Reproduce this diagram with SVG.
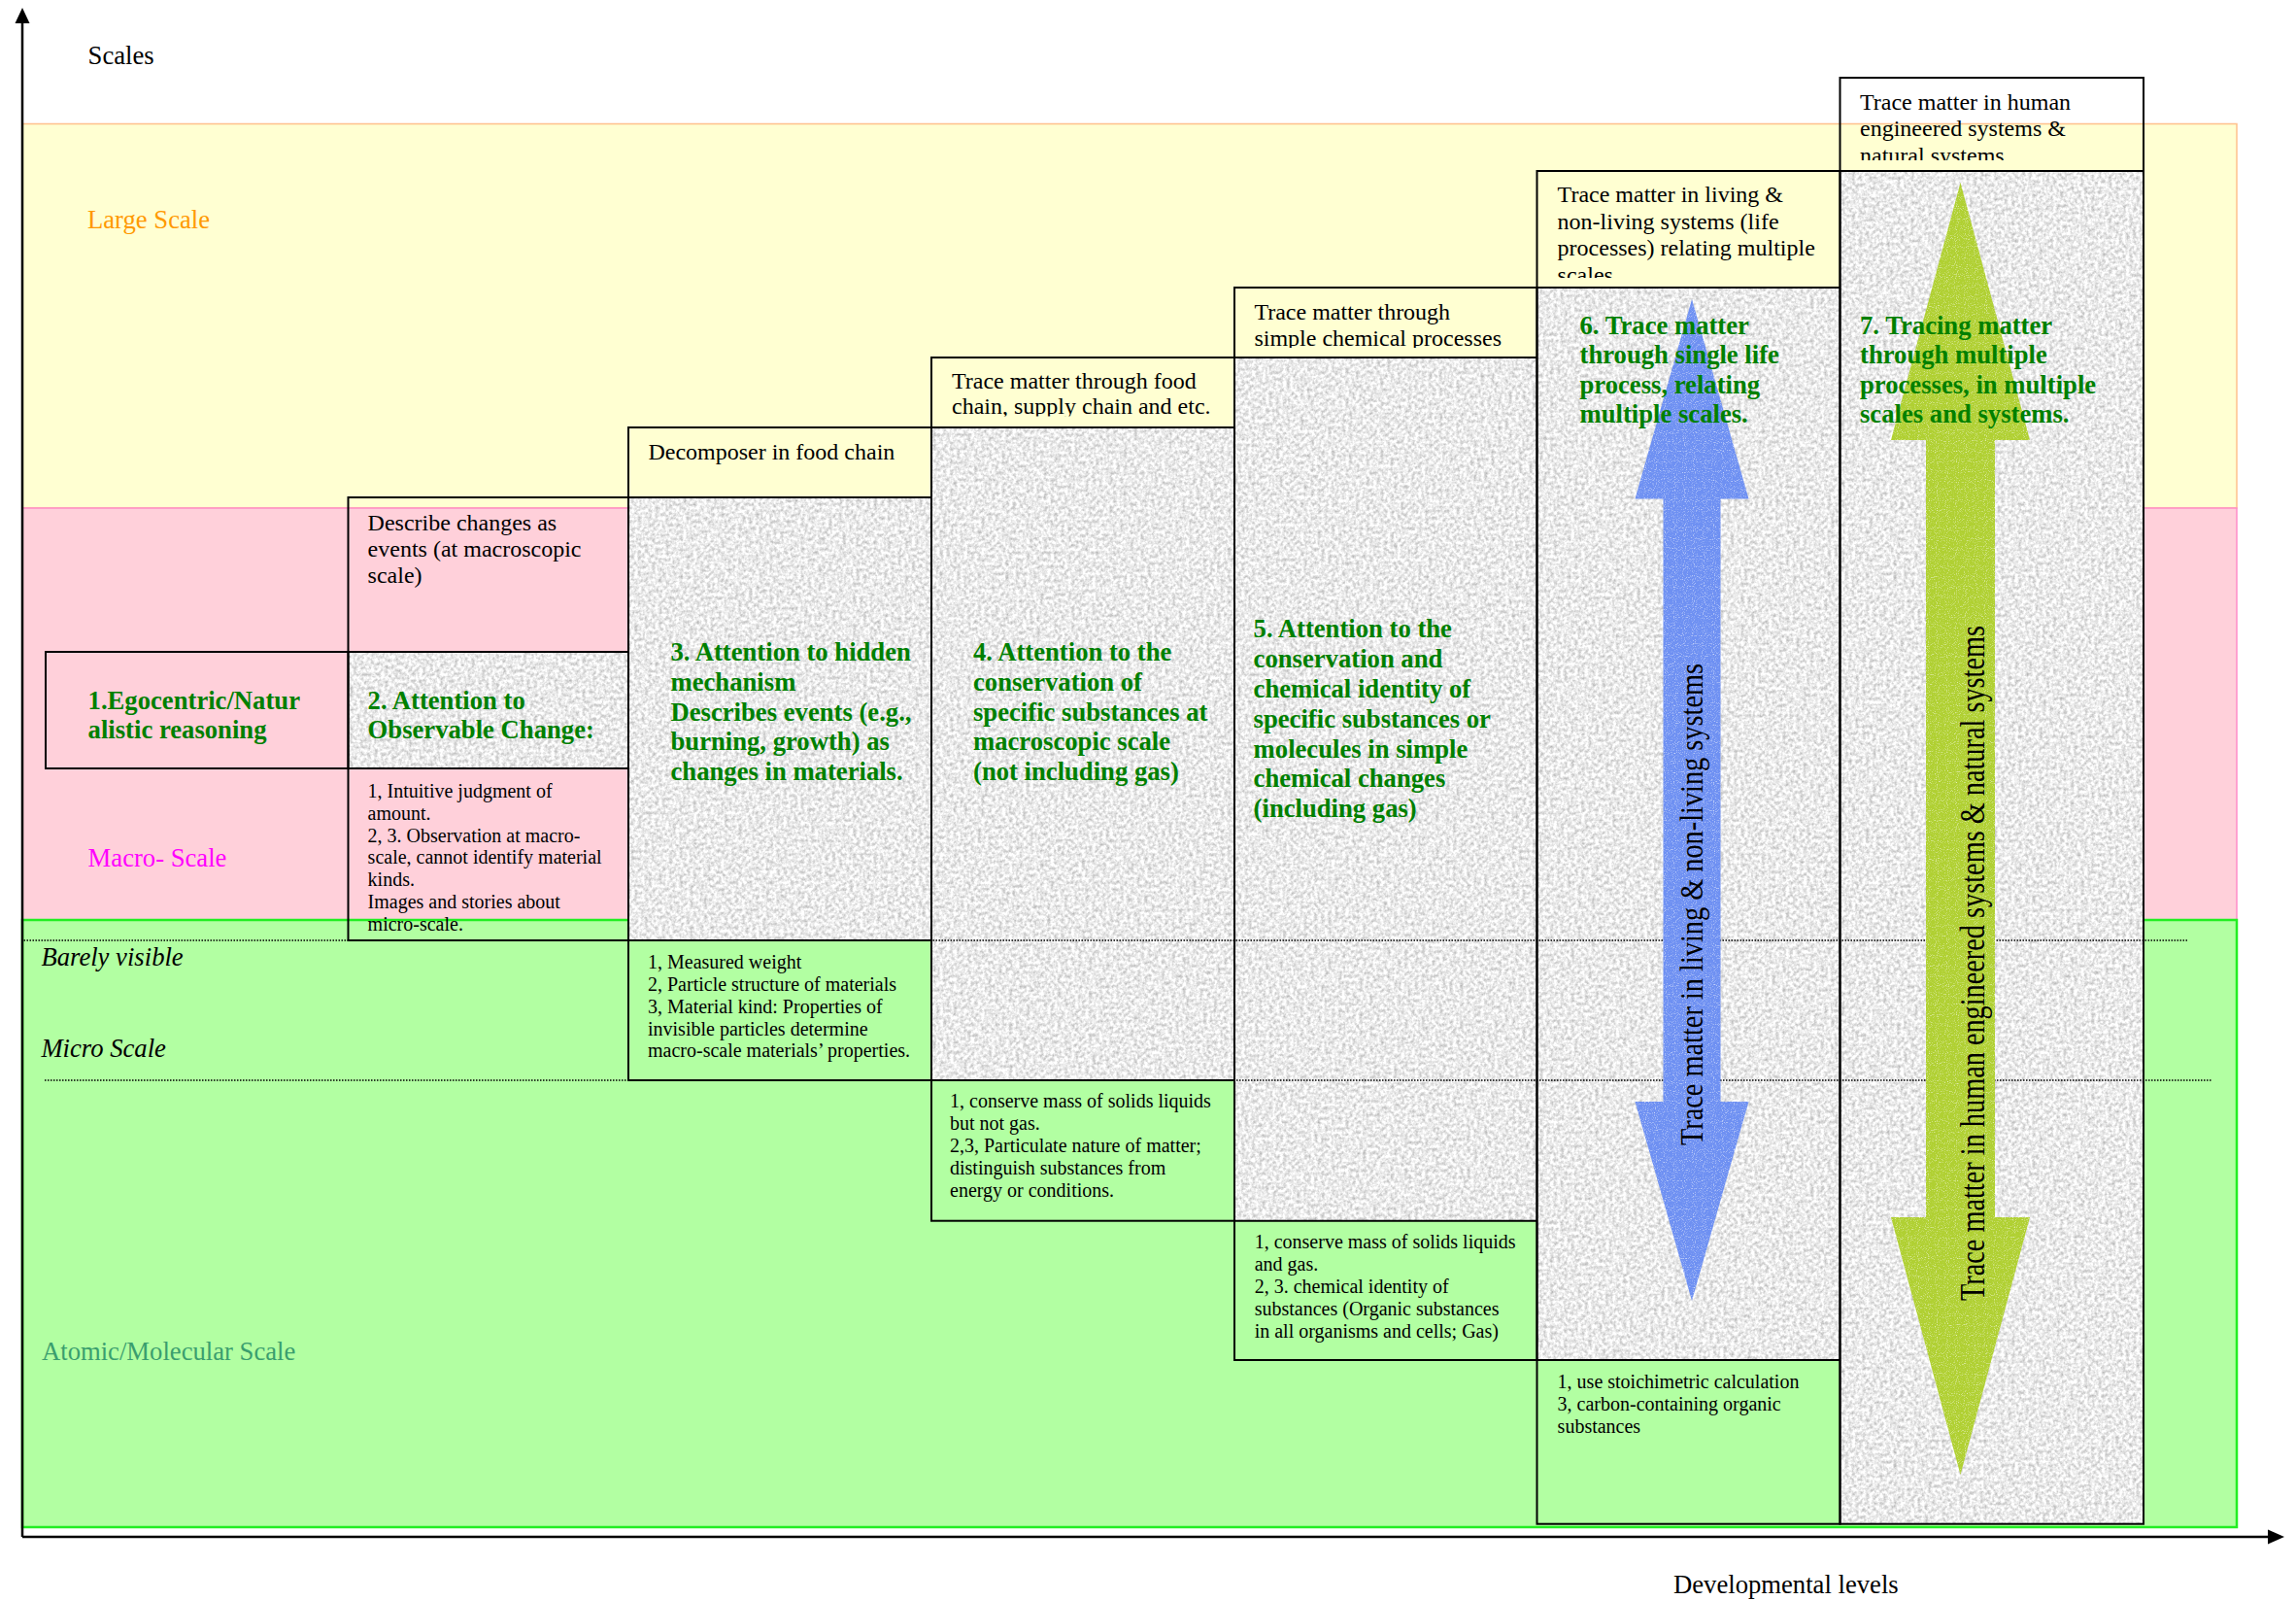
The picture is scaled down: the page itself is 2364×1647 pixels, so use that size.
<svg xmlns="http://www.w3.org/2000/svg" width="2364" height="1647" viewBox="0 0 2364 1647">
<style>
  .t{font-family:"Liberation Serif","Times New Roman",serif;fill:#000}
  .lbl{font-size:26.67px}
  .hd{font-size:24px}
  .lo{font-size:20px}
  .ttl{font-size:26.67px;font-weight:bold;fill:#008000}
  .it{font-style:italic}
  .box{fill:none;stroke:#000;stroke-width:2}
  .gray{fill:#ececec;filter:url(#granite)}
  .dot{stroke:#000;stroke-width:1.5;stroke-dasharray:1.5 1.5;fill:none}
  .axis{stroke:#000;stroke-width:2.5;fill:none}
</style>
<defs>
  <filter id="granite" x="0" y="0" width="1" height="1" color-interpolation-filters="sRGB">
    <feTurbulence type="fractalNoise" baseFrequency="0.28" numOctaves="3" seed="4" result="n"/>
    <feColorMatrix in="n" type="matrix" values="0.5 0 0 0 0.67  0.5 0 0 0 0.67  0.5 0 0 0 0.67  0 0 0 0 1" result="g"/>
    <feComposite in="g" in2="SourceGraphic" operator="in"/>
  </filter>
  <filter id="speck" x="0" y="0" width="1" height="1" color-interpolation-filters="sRGB">
    <feTurbulence type="fractalNoise" baseFrequency="0.9" numOctaves="1" seed="2" result="n"/>
    <feColorMatrix in="n" type="matrix" values="0 0 0 0 1  0 0 0 0 1  0 0 0 0 1  2.2 0 0 0 -1.15" result="w"/>
    <feComposite in="w" in2="SourceGraphic" operator="in" result="w2"/>
    <feMerge><feMergeNode in="SourceGraphic"/><feMergeNode in="w2"/></feMerge>
  </filter>
  <clipPath id="c4"><rect x="959" y="368" width="312" height="60.5"/></clipPath>
  <clipPath id="c5"><rect x="1271" y="296" width="312" height="62"/></clipPath>
  <clipPath id="c6"><rect x="1583" y="176" width="312" height="110"/></clipPath>
  <clipPath id="c7"><rect x="1895" y="80" width="312" height="85"/></clipPath>
</defs>

<!-- scale bands -->
<g id="bands">
  <rect x="23" y="127.5" width="2280" height="395.5" fill="#FFFFD2" stroke="#FFC08C" stroke-width="1.5"/>
  <rect x="23" y="523" width="2280" height="424" fill="#FFD0DA" stroke="#FF8CC8" stroke-width="1.5"/>
  <rect x="23" y="947" width="2280" height="625" fill="#B2FFA2" stroke="#22EE22" stroke-width="2.5"/>
</g>

<!-- gray textured areas -->
<g id="textures">
  <rect class="gray" x="358.5" y="671" width="288.5" height="120"/>
  <rect class="gray" x="647" y="512" width="312" height="456"/>
  <rect class="gray" x="959" y="440" width="312" height="672"/>
  <rect class="gray" x="1271" y="368" width="311.5" height="889"/>
  <rect class="gray" x="1582.5" y="296" width="312" height="1104"/>
  <rect class="gray" x="1894.5" y="176" width="312.5" height="1393"/>
</g>

<!-- dotted boundary lines -->
<g id="dotted">
  <line class="dot" x1="24.5" y1="968" x2="2252" y2="968"/>
  <line class="dot" x1="46" y1="1112" x2="2277" y2="1112"/>
</g>

<!-- axes -->
<g id="connectors">
  <line class="axis" x1="23" y1="1582" x2="23" y2="22"/>
  <polygon points="23,8 15.5,24 30.5,24" fill="#000"/>
  <line class="axis" x1="23" y1="1582" x2="2338" y2="1582"/>
  <polygon points="2352,1582 2335,1574.5 2335,1589.5" fill="#000"/>
</g>

<!-- node outlines -->
<g id="node1"><rect class="box" x="47" y="671" width="311.5" height="120"/>
  <text class="t ttl"><tspan x="90.6" y="729.6">1.Egocentric/Natur</tspan><tspan x="90.6" y="760.3">alistic reasoning</tspan></text>
</g>
<g id="node2">
  <rect class="box" x="358.5" y="512" width="288.5" height="456"/>
  <line class="box" x1="358.5" y1="671" x2="647" y2="671"/>
  <line class="box" x1="358.5" y1="791" x2="647" y2="791"/>
  <text class="t hd"><tspan x="378.6" y="546">Describe changes as</tspan><tspan x="378.6" y="573">events (at macroscopic</tspan><tspan x="378.6" y="600">scale)</tspan></text>
  <text class="t ttl"><tspan x="378.6" y="729.6">2. Attention to</tspan><tspan x="378.6" y="760.3">Observable Change:</tspan></text>
  <text class="t lo"><tspan x="378.6" y="820.7">1, Intuitive judgment of</tspan><tspan x="378.6" y="843.6">amount.</tspan><tspan x="378.6" y="866.5">2, 3. Observation at macro-</tspan><tspan x="378.6" y="889.4">scale, cannot identify material</tspan><tspan x="378.6" y="912.3">kinds.</tspan><tspan x="378.6" y="935.2">Images and stories about</tspan><tspan x="378.6" y="958.1">micro-scale.</tspan></text>
</g>
<g id="node3">
  <rect class="box" x="647" y="440" width="312" height="672"/>
  <line class="box" x1="647" y1="512" x2="959" y2="512"/>
  <line class="box" x1="647" y1="968" x2="959" y2="968"/>
  <text class="t hd" x="667.4" y="472.7">Decomposer in food chain</text>
  <text class="t ttl"><tspan x="690.5" y="680">3. Attention to hidden</tspan><tspan x="690.5" y="710.8">mechanism</tspan><tspan x="690.5" y="741.6">Describes events (e.g.,</tspan><tspan x="690.5" y="772.4">burning, growth) as</tspan><tspan x="690.5" y="803.2">changes in materials.</tspan></text>
  <text class="t lo"><tspan x="667" y="996.8">1, Measured weight</tspan><tspan x="667" y="1019.7">2, Particle structure of materials</tspan><tspan x="667" y="1042.6">3, Material kind: Properties of</tspan><tspan x="667" y="1065.5">invisible particles determine</tspan><tspan x="667" y="1088.4">macro-scale materials’ properties.</tspan></text>
</g>
<g id="node4">
  <rect class="box" x="959" y="368" width="312" height="888.7"/>
  <line class="box" x1="959" y1="440" x2="1271" y2="440"/>
  <line class="box" x1="959" y1="1112" x2="1271" y2="1112"/>
  <text class="t hd" clip-path="url(#c4)"><tspan x="980" y="400">Trace matter through food</tspan><tspan x="980" y="426">chain, supply chain and etc.</tspan></text>
  <text class="t ttl"><tspan x="1002" y="680">4. Attention to the</tspan><tspan x="1002" y="710.8">conservation of</tspan><tspan x="1002" y="741.6">specific substances at</tspan><tspan x="1002" y="772.4">macroscopic scale</tspan><tspan x="1002" y="803.2">(not including gas)</tspan></text>
  <text class="t lo"><tspan x="978" y="1140">1, conserve mass of solids liquids</tspan><tspan x="978" y="1162.9">but not gas.</tspan><tspan x="978" y="1185.8">2,3, Particulate nature of matter;</tspan><tspan x="978" y="1208.7">distinguish substances from</tspan><tspan x="978" y="1231.6">energy or conditions.</tspan></text>
</g>
<g id="node5">
  <rect class="box" x="1271" y="296" width="311.5" height="1104"/>
  <line class="box" x1="1271" y1="368" x2="1582.5" y2="368"/>
  <line class="box" x1="1271" y1="1256.7" x2="1582.5" y2="1256.7"/>
  <text class="t hd" clip-path="url(#c5)"><tspan x="1291.4" y="329">Trace matter through</tspan><tspan x="1291.4" y="355.5">simple chemical processes</tspan></text>
  <text class="t ttl"><tspan x="1290.6" y="656.3">5. Attention to the</tspan><tspan x="1290.6" y="687.1">conservation and</tspan><tspan x="1290.6" y="717.9">chemical identity of</tspan><tspan x="1290.6" y="748.7">specific substances or</tspan><tspan x="1290.6" y="779.5">molecules in simple</tspan><tspan x="1290.6" y="810.3">chemical changes</tspan><tspan x="1290.6" y="841.1">(including gas)</tspan></text>
  <text class="t lo"><tspan x="1291.7" y="1285">1, conserve mass of solids liquids</tspan><tspan x="1291.7" y="1307.9">and gas.</tspan><tspan x="1291.7" y="1330.8">2, 3. chemical identity of</tspan><tspan x="1291.7" y="1353.7">substances (Organic substances</tspan><tspan x="1291.7" y="1376.6">in all organisms and cells; Gas)</tspan></text>
</g>
<g id="node6">
  <rect class="box" x="1582.5" y="176" width="312" height="1392.7"/>
  <line class="box" x1="1582.5" y1="296" x2="1894.5" y2="296"/>
  <line class="box" x1="1582.5" y1="1400" x2="1894.5" y2="1400"/>
  <text class="t hd" clip-path="url(#c6)"><tspan x="1603.6" y="208.3">Trace matter in living &amp;</tspan><tspan x="1603.6" y="235.7">non-living systems (life</tspan><tspan x="1603.6" y="263.1">processes) relating multiple</tspan><tspan x="1603.6" y="290.5">scales</tspan></text>
  <text class="t lo"><tspan x="1603.6" y="1429">1, use stoichimetric calculation</tspan><tspan x="1603.6" y="1451.9">3, carbon-containing organic</tspan><tspan x="1603.6" y="1474.8">substances</tspan></text>
</g>
<g id="node7">
  <rect class="box" x="1894.5" y="80" width="312.5" height="1488.7"/>
  <line class="box" x1="1894.5" y1="176" x2="2207" y2="176"/>
  <text class="t hd" clip-path="url(#c7)"><tspan x="1915" y="112.7">Trace matter in human</tspan><tspan x="1915" y="140.1">engineered systems &amp;</tspan><tspan x="1915" y="167.5">natural systems</tspan></text>
</g>

<!-- double-headed arrows -->
<g id="arrow-living">
  <polygon filter="url(#speck)" fill="#6E90F2" points="1742,308 1800.5,513.5 1771.5,513.5 1771.5,1134 1800.5,1134 1742,1339 1683.5,1134 1712.5,1134 1712.5,513.5 1683.5,513.5"/>
  <text class="t" font-size="34" textLength="496" lengthAdjust="spacingAndGlyphs" transform="translate(1753,1179) rotate(-90)">Trace matter in living &amp; non-living systems</text>
</g>
<g id="arrow-engineered">
  <polygon filter="url(#speck)" fill="#B0D032" points="2018.5,188 2090,453 2054,453 2054,1253 2090,1253 2018.5,1518 1947,1253 1983,1253 1983,453 1947,453"/>
  <text class="t" font-size="35" textLength="695" lengthAdjust="spacingAndGlyphs" transform="translate(2043,1339) rotate(-90)">Trace matter in human engineered systems &amp; natural systems</text>
</g>

<!-- titles over arrows -->
<g id="titles67">
  <text class="t ttl"><tspan x="1626.5" y="343.5">6. Trace matter</tspan><tspan x="1626.5" y="374">through single life</tspan><tspan x="1626.5" y="404.5">process, relating</tspan><tspan x="1626.5" y="435">multiple scales.</tspan></text>
  <text class="t ttl"><tspan x="1915" y="343.5">7. Tracing matter</tspan><tspan x="1915" y="374">through multiple</tspan><tspan x="1915" y="404.5">processes, in multiple</tspan><tspan x="1915" y="435">scales and systems.</tspan></text>
</g>

<!-- scale labels -->
<g id="labels">
  <text class="t lbl" x="90.6" y="66">Scales</text>
  <text class="t lbl" x="90" y="235" style="fill:#FF9900">Large Scale</text>
  <text class="t lbl" x="90.6" y="892" style="fill:#FF00FF">Macro- Scale</text>
  <text class="t lbl it" x="42.4" y="993.7">Barely visible</text>
  <text class="t lbl it" x="42.4" y="1087.5">Micro Scale</text>
  <text class="t lbl" x="43" y="1400" style="fill:#3A9E6E">Atomic/Molecular Scale</text>
  <text class="t lbl" x="1723" y="1640">Developmental levels</text>
</g>
</svg>
